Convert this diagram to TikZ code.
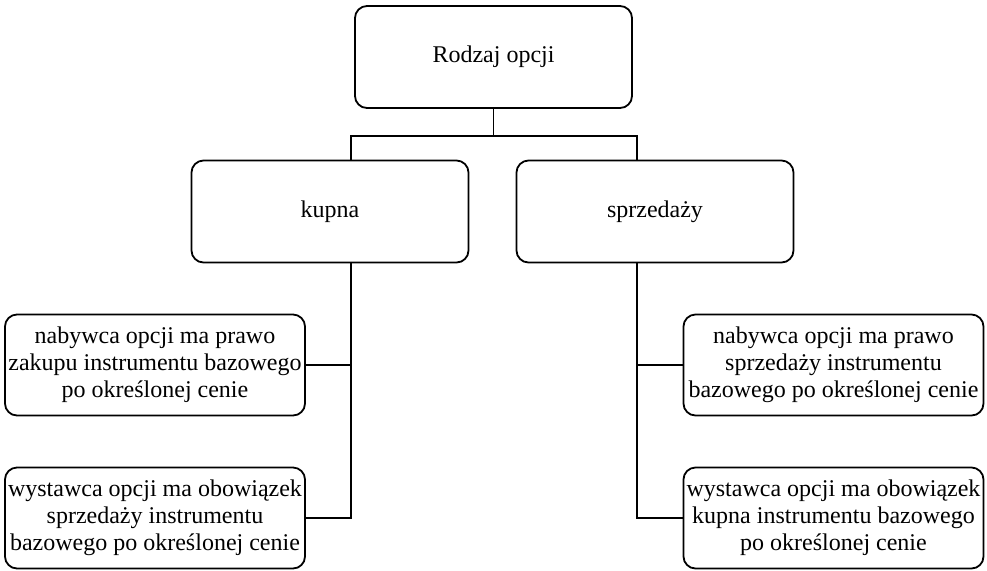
\documentclass[tikz,border=0pt]{standalone}
\usepackage{fontspec}
\setmainfont{Liberation Serif}

\begin{document}
\begin{tikzpicture}[x=0.5pt, y=-0.5pt, line width=0.9pt,
    every node/.style={draw, rounded corners=6pt, align=center, inner sep=0pt, font=\fontsize{12}{13.5}\selectfont},
    headbox/.style={minimum width=138.5pt, minimum height=51pt},
    textbox/.style={minimum width=150pt, minimum height=50.5pt}]
    \useasboundingbox (0,0) rectangle (987,570);
    % Define vertices
    \node[headbox] (root) at (493.5, 57) {Rodzaj opcji};
    \node[headbox] (buy) at (330, 211.5) {kupna};
    \node[headbox] (sell) at (655, 211.5) {sprzedaży};
    \node[textbox] (buyA) at (155, 365) {nabywca opcji ma prawo\\zakupu instrumentu bazowego\\po określonej cenie};
    \node[textbox] (buyB) at (155, 518) {wystawca opcji ma obowiązek\\sprzedaży instrumentu\\bazowego po określonej cenie};
    \node[textbox] (sellA) at (833.5, 365) {nabywca opcji ma prawo\\sprzedaży instrumentu\\bazowego po określonej cenie};
    \node[textbox] (sellB) at (833.5, 518) {wystawca opcji ma obowiązek\\kupna instrumentu bazowego\\po określonej cenie};
    \coordinate (jl) at (351, 136);
    \coordinate (jr) at (637, 136);

    % Draw edges
    \draw (root.south) -- (root.south |- jl); % trunk
    \draw (jl |- buy.north) -- (jl) -- (jr) -- (jr |- sell.north); % bar
    \draw (jl |- buy.south) -- (jl |- buyB.east) -- (buyB.east); % left spine
    \draw (jl |- buyA.east) -- (buyA.east);
    \draw (jr |- sell.south) -- (jr |- sellB.west) -- (sellB.west); % right spine
    \draw (jr |- sellA.west) -- (sellA.west);
\end{tikzpicture}
\end{document}
